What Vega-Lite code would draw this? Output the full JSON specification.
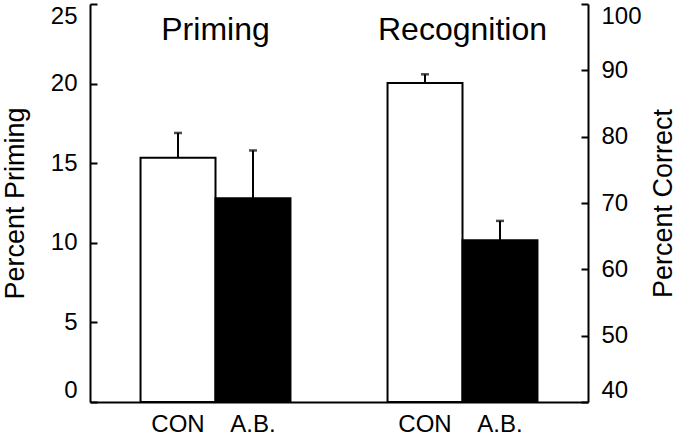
{
  "$schema": "https://vega.github.io/schema/vega-lite/v6.json",
  "width": 498,
  "height": 398,
  "autosize": {"type": "none"},
  "padding": {"left": 90, "top": 4, "right": 90, "bottom": 34},
  "config": {
    "view": {"stroke": null},
    "font": "Liberation Sans",
    "axis": {
      "grid": false,
      "domainColor": "black",
      "domainWidth": 2,
      "tickColor": "black",
      "tickWidth": 2,
      "labelColor": "black",
      "labelFont": "Liberation Sans",
      "labelFontSize": 24,
      "titleColor": "black",
      "titleFont": "Liberation Sans",
      "titleFontSize": 27,
      "titleFontWeight": "normal"
    }
  },
  "data": {
    "values": [
      {"panel": "Priming", "cond": "CON", "value": 15.35, "upper": 16.9},
      {"panel": "Priming", "cond": "A.B.", "value": 12.8, "upper": 15.8},
      {"panel": "Recognition", "cond": "CON", "value": 88.1, "upper": 89.4},
      {"panel": "Recognition", "cond": "A.B.", "value": 64.4, "upper": 67.3}
    ]
  },
  "encoding": {
    "x": {
      "field": "panel",
      "type": "nominal",
      "scale": {"domain": ["Priming", "Recognition"], "paddingInner": 0.393, "paddingOuter": 0.2046},
      "axis": {"labels": false, "ticks": false, "title": null, "domainColor": "black", "domainWidth": 2}
    }
  },
  "layer": [
    {
      "transform": [{"filter": "datum.panel == 'Priming'"}],
      "encoding": {
        "y": {
          "field": "value",
          "type": "quantitative",
          "scale": {"domain": [0, 25], "nice": false, "zero": false},
          "axis": {"orient": "left", "title": "Percent Priming", "values": [0, 5, 10, 15, 20, 25], "tickSize": -7, "labelPadding": 20, "labelFlush": true, "titlePadding": 21}
        }
      },
      "layer": [
        {
          "mark": {"type": "rule", "color": "black", "strokeWidth": 2},
          "encoding": {
            "xOffset": {"field": "cond", "type": "nominal", "scale": {"domain": ["CON", "A.B."], "paddingInner": 0, "paddingOuter": 0}},
            "y": {"field": "value", "type": "quantitative"},
            "y2": {"field": "upper"}
          }
        },
        {
          "mark": {"type": "tick", "color": "black", "size": 8, "thickness": 2.5, "orient": "horizontal"},
          "encoding": {
            "xOffset": {"field": "cond", "type": "nominal"},
            "y": {"field": "upper", "type": "quantitative"}
          }
        },
        {
          "mark": {"type": "bar", "stroke": "black", "strokeWidth": 2},
          "encoding": {
            "xOffset": {"field": "cond", "type": "nominal"},
            "y": {"field": "value", "type": "quantitative"},
            "fill": {"field": "cond", "type": "nominal", "scale": {"domain": ["CON", "A.B."], "range": ["white", "black"]}, "legend": null}
          }
        },
        {
          "mark": {"type": "text", "fontSize": 24, "baseline": "alphabetic", "color": "black", "font": "Liberation Sans"},
          "encoding": {
            "xOffset": {"field": "cond", "type": "nominal"},
            "y": {"datum": -1.88},
            "text": {"field": "cond"}
          }
        },
        {
          "transform": [{"filter": "datum.cond == 'CON'"}],
          "mark": {"type": "text", "fontSize": 32, "baseline": "alphabetic", "color": "black", "font": "Liberation Sans"},
          "encoding": {"y": {"datum": 22.74}, "text": {"field": "panel"}}
        }
      ]
    },
    {
      "transform": [{"filter": "datum.panel == 'Recognition'"}],
      "encoding": {
        "y": {
          "field": "value",
          "type": "quantitative",
          "scale": {"domain": [40, 100], "nice": false, "zero": false},
          "axis": {"orient": "right", "title": "Percent Correct", "values": [40, 50, 60, 70, 80, 90, 100], "tickSize": -7, "labelPadding": 20, "labelFlush": true, "titlePadding": 36, "titleAngle": 270}
        }
      },
      "layer": [
        {
          "mark": {"type": "rule", "color": "black", "strokeWidth": 2},
          "encoding": {
            "xOffset": {"field": "cond", "type": "nominal"},
            "y": {"field": "value", "type": "quantitative"},
            "y2": {"field": "upper"}
          }
        },
        {
          "mark": {"type": "tick", "color": "black", "size": 8, "thickness": 2.5, "orient": "horizontal"},
          "encoding": {
            "xOffset": {"field": "cond", "type": "nominal"},
            "y": {"field": "upper", "type": "quantitative"}
          }
        },
        {
          "mark": {"type": "bar", "stroke": "black", "strokeWidth": 2},
          "encoding": {
            "xOffset": {"field": "cond", "type": "nominal"},
            "y": {"field": "value", "type": "quantitative"},
            "y2": {"datum": 40},
            "fill": {"field": "cond", "type": "nominal", "scale": {"domain": ["CON", "A.B."], "range": ["white", "black"]}, "legend": null}
          }
        },
        {
          "mark": {"type": "text", "fontSize": 24, "baseline": "alphabetic", "color": "black", "font": "Liberation Sans"},
          "encoding": {
            "xOffset": {"field": "cond", "type": "nominal"},
            "y": {"datum": 35.48},
            "text": {"field": "cond"}
          }
        },
        {
          "transform": [{"filter": "datum.cond == 'CON'"}],
          "mark": {"type": "text", "fontSize": 32, "baseline": "alphabetic", "color": "black", "font": "Liberation Sans"},
          "encoding": {"y": {"datum": 94.6}, "text": {"field": "panel"}}
        }
      ]
    }
  ],
  "resolve": {"scale": {"y": "independent"}, "axis": {"y": "independent"}}
}
